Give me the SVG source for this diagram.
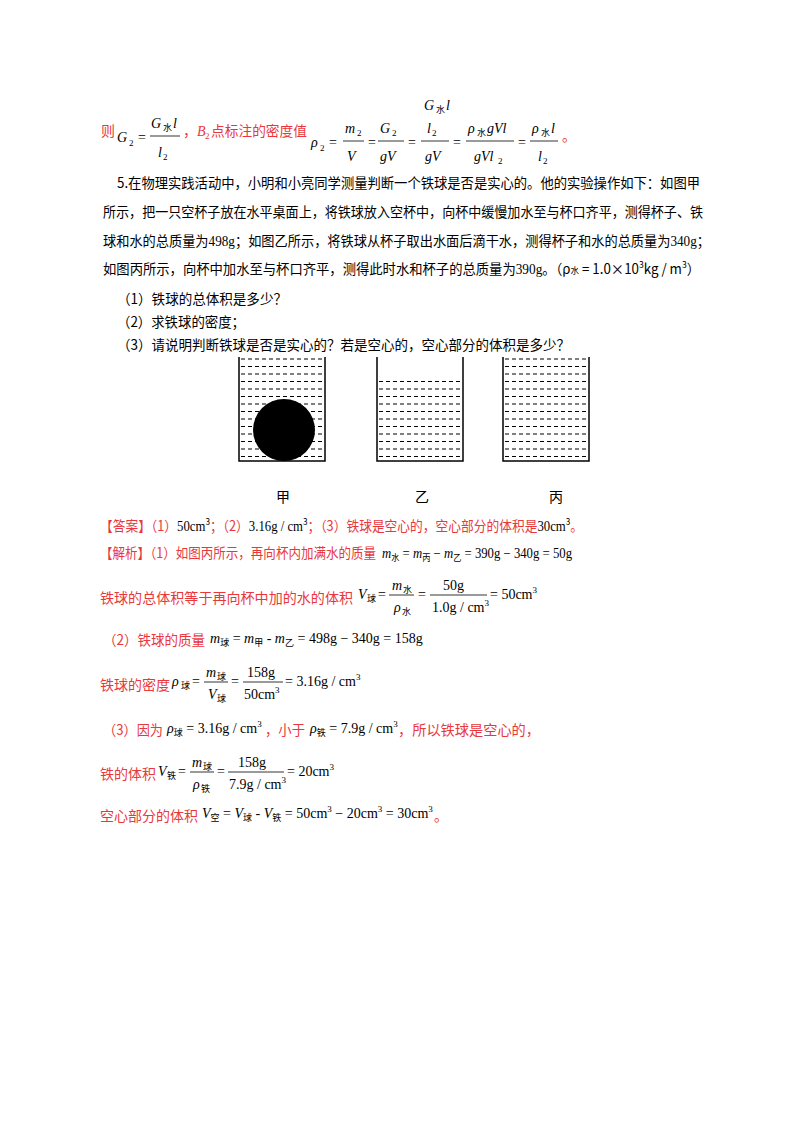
<svg xmlns="http://www.w3.org/2000/svg" width="800" height="1132" viewBox="0 0 800 1132">
<style>
text{font-family:"Liberation Serif","Noto Sans CJK SC",serif;font-size:14px;fill:#000}
.r{fill:#e8383d}
.c{font-family:"Noto Sans CJK SC",sans-serif}
.i{font-style:italic}
.s{font-size:9px}
.w{stroke:#000;stroke-width:1.5;fill:none}
.d{stroke:#000;stroke-width:1.2;stroke-dasharray:4,3}
.f{stroke:#000;stroke-width:0.8}
</style>
<rect width="800" height="1132" fill="#fff"/>
<g id="formula-top">
<text x="101" y="136" class="r c">则</text>
<text x="117" y="142" class="i" font-size="16">G</text><text x="129" y="146" class="s">2</text>
<text x="138" y="142">=</text>
<text x="151" y="128" class="i" font-size="16">G</text><text x="163" y="131" class="s c">水</text><text x="173" y="128" class="i" font-size="16">l</text>
<line x1="150" y1="136" x2="180" y2="136" class="f"/>
<text x="158" y="157" class="i" font-size="16">l</text><text x="163" y="160" class="s">2</text>
<text x="183" y="136" class="r c">，</text>
<text x="197" y="136" class="r i">B</text><text x="205" y="139" class="r s">2</text>
<text x="211" y="136" class="r c" textLength="96" lengthAdjust="spacingAndGlyphs">点标注的密度值</text>
<text x="311" y="147" class="i" font-size="16">ρ</text><text x="320" y="151" class="s">2</text>
<text x="329" y="147">=</text>
<text x="345" y="133" class="i" font-size="16">m</text><text x="357" y="136" class="s">2</text>
<line x1="343" y1="141" x2="364" y2="141" class="f"/>
<text x="347" y="161" class="i" font-size="16">V</text>
<text x="368" y="147">=</text>
<text x="380" y="133" class="i" font-size="16">G</text><text x="392" y="136" class="s">2</text>
<line x1="378" y1="141" x2="404" y2="141" class="f"/>
<text x="380" y="161" class="i" font-size="16">gV</text>
<text x="408" y="147">=</text>
<text x="424" y="110" class="i" font-size="16">G</text><text x="436" y="113" class="s c">水</text><text x="446" y="110" class="i" font-size="16">l</text>
<text x="427" y="133" class="i" font-size="16">l</text><text x="432" y="136" class="s">2</text>
<line x1="421" y1="141" x2="449" y2="141" class="f"/>
<text x="425" y="161" class="i" font-size="16">gV</text>
<text x="453" y="147">=</text>
<text x="468" y="133" class="i" font-size="16">ρ</text><text x="477" y="136" class="s c">水</text><text x="487" y="133" class="i" font-size="16">gVl</text>
<line x1="466" y1="141" x2="514" y2="141" class="f"/>
<text x="474" y="161" class="i" font-size="16">gVl</text><text x="498" y="164" class="s">2</text>
<text x="518" y="147">=</text>
<text x="532" y="133" class="i" font-size="16">ρ</text><text x="541" y="136" class="s c">水</text><text x="551" y="133" class="i" font-size="16">l</text>
<line x1="530" y1="141" x2="558" y2="141" class="f"/>
<text x="538" y="161" class="i" font-size="16">l</text><text x="543" y="164" class="s">2</text>
<text x="562" y="141" class="r c">。</text>
</g>
<g id="problem">
<text x="117" y="188" class="c" textLength="583" lengthAdjust="spacingAndGlyphs">5.在物理实践活动中，小明和小亮同学测量判断一个铁球是否是实心的。他的实验操作如下：如图甲</text>
<text x="103" y="217" class="c" textLength="600" lengthAdjust="spacingAndGlyphs">所示，把一只空杯子放在水平桌面上，将铁球放入空杯中，向杯中缓慢加水至与杯口齐平，测得杯子、铁</text>
<text x="103" y="246" class="c" textLength="607" lengthAdjust="spacingAndGlyphs">球和水的总质量为<tspan font-family="Liberation Serif">498g</tspan>；如图乙所示，将铁球从杯子取出水面后滴干水，测得杯子和水的总质量为<tspan font-family="Liberation Serif">340g</tspan>；</text>
<text x="103" y="274" class="c" textLength="597" lengthAdjust="spacingAndGlyphs">如图丙所示，向杯中加水至与杯口齐平，测得此时水和杯子的总质量为<tspan font-family="Liberation Serif">390g</tspan>。（ρ<tspan class="s">水</tspan> = 1.0×10<tspan class="s" dy="-6">3</tspan><tspan dy="6">kg / m</tspan><tspan class="s" dy="-6">3</tspan><tspan dy="6">）</tspan></text>
<text x="117" y="304" class="c" textLength="170" lengthAdjust="spacingAndGlyphs">（1）铁球的总体积是多少？</text>
<text x="117" y="327" class="c" textLength="128" lengthAdjust="spacingAndGlyphs">（2）求铁球的密度；</text>
<text x="117" y="350" class="c" textLength="453" lengthAdjust="spacingAndGlyphs">（3）请说明判断铁球是否是实心的？若是空心的，空心部分的体积是多少？</text>
</g>
<g id="beaker-jia">
<g class="d">
<line x1="241" y1="359" x2="323" y2="359"/><line x1="241" y1="366.5" x2="323" y2="366.5"/><line x1="241" y1="374" x2="323" y2="374"/><line x1="241" y1="381.5" x2="323" y2="381.5"/><line x1="241" y1="389" x2="323" y2="389"/><line x1="241" y1="396.5" x2="323" y2="396.5"/><line x1="241" y1="404" x2="323" y2="404"/><line x1="241" y1="411.5" x2="323" y2="411.5"/><line x1="241" y1="419" x2="323" y2="419"/><line x1="241" y1="426.5" x2="323" y2="426.5"/><line x1="241" y1="434" x2="323" y2="434"/><line x1="241" y1="441.5" x2="323" y2="441.5"/><line x1="241" y1="449" x2="323" y2="449"/><line x1="241" y1="456.5" x2="323" y2="456.5"/>
</g>
<circle cx="284" cy="430" r="31" fill="#000"/>
<polyline points="239,357 239,461 325,461 325,357" class="w"/>
<text x="283" y="502" class="c" text-anchor="middle">甲</text>
</g>
<g id="beaker-yi">
<g class="d">
<line x1="379" y1="381.5" x2="461" y2="381.5"/><line x1="379" y1="389" x2="461" y2="389"/><line x1="379" y1="396.5" x2="461" y2="396.5"/><line x1="379" y1="404" x2="461" y2="404"/><line x1="379" y1="411.5" x2="461" y2="411.5"/><line x1="379" y1="419" x2="461" y2="419"/><line x1="379" y1="426.5" x2="461" y2="426.5"/><line x1="379" y1="434" x2="461" y2="434"/><line x1="379" y1="441.5" x2="461" y2="441.5"/><line x1="379" y1="449" x2="461" y2="449"/><line x1="379" y1="456.5" x2="461" y2="456.5"/>
</g>
<polyline points="377,357 377,461 463,461 463,357" class="w"/>
<text x="422" y="502" class="c" text-anchor="middle">乙</text>
</g>
<g id="beaker-bing">
<g class="d">
<line x1="505" y1="359" x2="587" y2="359"/><line x1="505" y1="366.5" x2="587" y2="366.5"/><line x1="505" y1="374" x2="587" y2="374"/><line x1="505" y1="381.5" x2="587" y2="381.5"/><line x1="505" y1="389" x2="587" y2="389"/><line x1="505" y1="396.5" x2="587" y2="396.5"/><line x1="505" y1="404" x2="587" y2="404"/><line x1="505" y1="411.5" x2="587" y2="411.5"/><line x1="505" y1="419" x2="587" y2="419"/><line x1="505" y1="426.5" x2="587" y2="426.5"/><line x1="505" y1="434" x2="587" y2="434"/><line x1="505" y1="441.5" x2="587" y2="441.5"/><line x1="505" y1="449" x2="587" y2="449"/><line x1="505" y1="456.5" x2="587" y2="456.5"/>
</g>
<polyline points="503,357 503,461 589,461 589,357" class="w"/>
<text x="556" y="502" class="c" text-anchor="middle">丙</text>
</g>
<g id="answer">
<text x="100" y="531" class="r c" textLength="483" lengthAdjust="spacingAndGlyphs">【答案】（1）<tspan fill="#000" font-family="Liberation Serif">50cm</tspan><tspan fill="#000" class="s" dy="-6">3</tspan><tspan dy="6">；（2）</tspan><tspan fill="#000" font-family="Liberation Serif">3.16g / cm</tspan><tspan fill="#000" class="s" dy="-6">3</tspan><tspan dy="6">；（3）铁球是空心的，空心部分的体积是</tspan><tspan fill="#000" font-family="Liberation Serif">30cm</tspan><tspan fill="#000" class="s" dy="-6">3</tspan><tspan dy="6">。</tspan></text>
<text x="100" y="558" class="r c" textLength="276" lengthAdjust="spacingAndGlyphs">【解析】（1）如图丙所示，再向杯内加满水的质量</text>
<text x="382" y="558" textLength="190" lengthAdjust="spacingAndGlyphs"><tspan class="i">m</tspan><tspan class="s c" dy="3">水</tspan><tspan dy="-3"> = </tspan><tspan class="i">m</tspan><tspan class="s c" dy="3">丙</tspan><tspan dy="-3"> − </tspan><tspan class="i">m</tspan><tspan class="s c" dy="3">乙</tspan><tspan dy="-3"> = 390g − 340g = 50g</tspan></text>
<text x="100" y="603" class="r c" textLength="253" lengthAdjust="spacingAndGlyphs">铁球的总体积等于再向杯中加的水的体积</text>
<text x="358" y="599" class="i">V</text><text x="367" y="602" class="s c">球</text>
<text x="378" y="599">=</text>
<text x="392" y="590" class="i">m</text><text x="403" y="593" class="s c">水</text>
<line x1="389" y1="595" x2="414" y2="595" class="f"/>
<text x="394" y="612" class="i">ρ</text><text x="402" y="615" class="s c">水</text>
<text x="418" y="599">=</text>
<text x="443" y="590">50g</text>
<line x1="430" y1="595" x2="487" y2="595" class="f"/>
<text x="432" y="612">1.0g / cm<tspan class="s" dy="-6">3</tspan></text>
<text x="490" y="599">= 50cm<tspan class="s" dy="-6">3</tspan></text>
<text x="103" y="645" class="r c" textLength="102" lengthAdjust="spacingAndGlyphs">（2）铁球的质量</text>
<text x="210" y="643"><tspan class="i">m</tspan><tspan class="s c" dy="3">球</tspan><tspan dy="-3"> = </tspan><tspan class="i">m</tspan><tspan class="s c" dy="3">甲</tspan><tspan dy="-3"> - </tspan><tspan class="i">m</tspan><tspan class="s c" dy="3">乙</tspan><tspan dy="-3"> = 498g − 340g = 158g</tspan></text>
<text x="100" y="690" class="r c" textLength="70" lengthAdjust="spacingAndGlyphs">铁球的密度</text>
<text x="172" y="686" class="i">ρ</text><text x="181" y="689" class="s c">球</text>
<text x="192" y="686">=</text>
<text x="206" y="677" class="i">m</text><text x="217" y="680" class="s c">球</text>
<line x1="204" y1="682" x2="228" y2="682" class="f"/>
<text x="208" y="699" class="i">V</text><text x="217" y="702" class="s c">球</text>
<text x="231" y="686">=</text>
<text x="247" y="677">158g</text>
<line x1="243" y1="682" x2="283" y2="682" class="f"/>
<text x="244" y="699">50cm<tspan class="s" dy="-6">3</tspan></text>
<text x="285" y="686">= 3.16g / cm<tspan class="s" dy="-6">3</tspan></text>
<text x="103" y="735" class="r c" textLength="60" lengthAdjust="spacingAndGlyphs">（3）因为</text>
<text x="167" y="733"><tspan class="i">ρ</tspan><tspan class="s c" dy="3">球</tspan><tspan dy="-3"> = 3.16g / cm</tspan><tspan class="s" dy="-6">3</tspan></text>
<text x="265" y="735" class="r c" textLength="40" lengthAdjust="spacingAndGlyphs">，小于</text>
<text x="310" y="733"><tspan class="i">ρ</tspan><tspan class="s c" dy="3">铁</tspan><tspan dy="-3"> = 7.9g / cm</tspan><tspan class="s" dy="-6">3</tspan></text>
<text x="398" y="735" class="r c" textLength="142" lengthAdjust="spacingAndGlyphs">，所以铁球是空心的，</text>
<text x="100" y="779" class="r c" textLength="56" lengthAdjust="spacingAndGlyphs">铁的体积</text>
<text x="158" y="776" class="i">V</text><text x="167" y="779" class="s c">铁</text>
<text x="178" y="776">=</text>
<text x="192" y="767" class="i">m</text><text x="203" y="770" class="s c">球</text>
<line x1="190" y1="772" x2="214" y2="772" class="f"/>
<text x="193" y="789" class="i">ρ</text><text x="201" y="792" class="s c">铁</text>
<text x="217" y="776">=</text>
<text x="238" y="767">158g</text>
<line x1="228" y1="772" x2="284" y2="772" class="f"/>
<text x="229" y="789">7.9g / cm<tspan class="s" dy="-6">3</tspan></text>
<text x="287" y="776">= 20cm<tspan class="s" dy="-6">3</tspan></text>
<text x="100" y="821" class="r c" textLength="98" lengthAdjust="spacingAndGlyphs">空心部分的体积</text>
<text x="202" y="818"><tspan class="i">V</tspan><tspan class="s c" dy="3">空</tspan><tspan dy="-3"> = </tspan><tspan class="i">V</tspan><tspan class="s c" dy="3">球</tspan><tspan dy="-3"> - </tspan><tspan class="i">V</tspan><tspan class="s c" dy="3">铁</tspan><tspan dy="-3"> = 50cm</tspan><tspan class="s" dy="-6">3</tspan><tspan dy="6"> − 20cm</tspan><tspan class="s" dy="-6">3</tspan><tspan dy="6"> = 30cm</tspan><tspan class="s" dy="-6">3</tspan></text>
<text x="434" y="821" class="r c">。</text>
</g>
</svg>
